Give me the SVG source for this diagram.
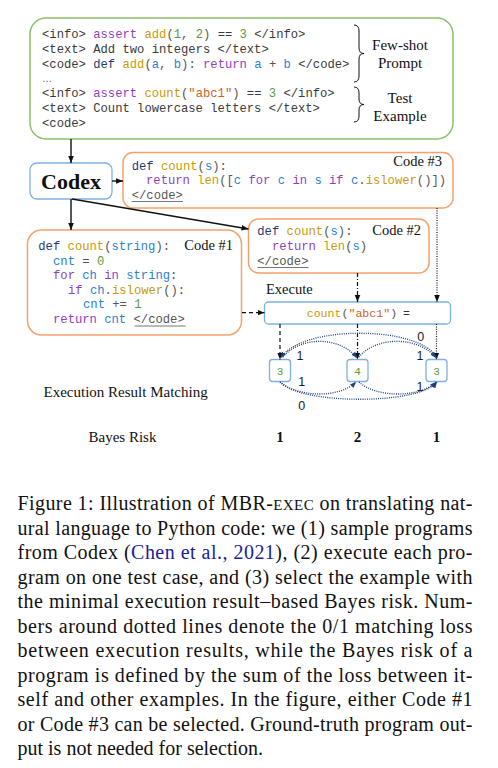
<svg xmlns="http://www.w3.org/2000/svg" width="498" height="768" viewBox="0 0 498 768">
<defs>
<style>
.mono{font-family:"Liberation Mono","DejaVu Sans Mono",monospace;font-size:12.2px;fill:#3a3a3a}
.ex{font-size:11.6px}
.k{fill:#1f3b73}.f{fill:#c99a06}.p{fill:#8e3fbf}.v{fill:#2b82d0}.n{fill:#5b9b3a}.s{fill:#c8642a}.g{fill:#555}
.serif{font-family:"Liberation Serif","Times New Roman",serif;fill:#111}
.lbl{font-size:14.5px}
.lbl15{font-size:15px}
.cap{font-family:"Liberation Serif","Times New Roman",serif;font-size:20px;fill:#111}
.num{font-family:"Liberation Sans",Arial,sans-serif;font-size:12.5px;fill:#222}
.green{fill:#fff;stroke:#8cc068;stroke-width:1.5}
.orange{fill:#fff;stroke:#f3a26b;stroke-width:1.5}
.blue{fill:#fff;stroke:#7fb1e0;stroke-width:1.3}
.ul{stroke:#777;stroke-width:1}
.solid{stroke:#111;stroke-width:1.4;fill:none}
.dash{stroke:#111;stroke-width:1.2;fill:none;stroke-dasharray:4 3}
.dashdot{stroke:#111;stroke-width:1.2;fill:none;stroke-dasharray:4 2 1 2}
.dot{stroke:#111;stroke-width:1.2;fill:none;stroke-dasharray:1 1.4}
.arc{stroke:#1f3f7f;stroke-width:1.3;fill:none;stroke-dasharray:1 1.2}
</style>
<marker id="ah" viewBox="0 0 10 10" refX="10" refY="5" markerWidth="7" markerHeight="7" orient="auto" markerUnits="userSpaceOnUse"><path d="M0,1 L10,5 L0,9 z" fill="#111"/></marker>
<marker id="ahb" viewBox="0 0 10 10" refX="10" refY="5" markerWidth="6" markerHeight="6" orient="auto" markerUnits="userSpaceOnUse"><path d="M0,1 L10,5 L0,9 z" fill="#1f3f7f"/></marker>
</defs>
<rect width="498" height="768" fill="#fff"/>

<g id="prompt">
<rect class="green" x="30" y="18" width="423" height="121" rx="16"/>
<text class="mono" x="42" y="38" xml:space="preserve">&lt;info&gt; <tspan class="p">assert</tspan> <tspan class="f">add</tspan><tspan class="g">(</tspan><tspan class="n">1</tspan><tspan class="g">, </tspan><tspan class="n">2</tspan><tspan class="g">)</tspan> == <tspan class="n">3</tspan> &lt;/info&gt;</text>
<text class="mono" x="42" y="52.75" xml:space="preserve">&lt;text&gt; Add two integers &lt;/text&gt;</text>
<text class="mono" x="42" y="67.5" xml:space="preserve">&lt;code&gt; <tspan class="k">def</tspan> <tspan class="f">add</tspan><tspan class="g">(</tspan><tspan class="v">a</tspan><tspan class="g">, </tspan><tspan class="v">b</tspan><tspan class="g">):</tspan> <tspan class="p">return</tspan> <tspan class="v">a</tspan> <tspan class="g">+</tspan> <tspan class="v">b</tspan> &lt;/code&gt;</text>
<text x="42" y="81.5" style="font-family:'Liberation Sans',sans-serif;font-size:10px;fill:#555">…</text>
<text class="mono" x="42" y="97" xml:space="preserve">&lt;info&gt; <tspan class="p">assert</tspan> <tspan class="f">count</tspan><tspan class="g">(</tspan><tspan class="s">"abc1"</tspan><tspan class="g">)</tspan> == <tspan class="n">3</tspan> &lt;/info&gt;</text>
<text class="mono" x="42" y="111.75" xml:space="preserve">&lt;text&gt; Count lowercase letters &lt;/text&gt;</text>
<text class="mono" x="42" y="126.5" xml:space="preserve">&lt;code&gt;</text>
<path d="M354,25 Q359,25 359,31 L359,48 Q359,53.5 364,53.5 Q359,53.5 359,59 L359,76 Q359,82 354,82" fill="none" stroke="#111" stroke-width="1"/>
<path d="M354,87 Q359,87 359,93 L359,99 Q359,104.5 364,104.5 Q359,104.5 359,110 L359,116 Q359,122 354,122" fill="none" stroke="#111" stroke-width="1"/>
<text class="serif lbl15" x="400" y="49.5" text-anchor="middle">Few-shot</text>
<text class="serif lbl15" x="400" y="67.5" text-anchor="middle">Prompt</text>
<text class="serif lbl15" x="400" y="102.5" text-anchor="middle">Test</text>
<text class="serif lbl15" x="400" y="120.5" text-anchor="middle">Example</text>
</g>

<g id="codex">
<rect class="blue" x="30" y="163" width="82" height="36" rx="7"/>
<text class="serif" x="71" y="189" text-anchor="middle" style="font-size:22px;font-weight:bold">Codex</text>
</g>

<g id="code3">
<rect class="orange" x="123" y="152.5" width="330" height="55.5" rx="10"/>
<text class="mono" x="131.7" y="170"><tspan class="k">def</tspan> <tspan class="f">count</tspan><tspan class="g">(</tspan><tspan class="v">s</tspan><tspan class="g">):</tspan></text>
<text class="mono" x="146" y="184.3" xml:space="preserve"><tspan class="p">return</tspan> <tspan class="f">len</tspan><tspan class="g">([</tspan><tspan class="v">c</tspan> <tspan class="p">for</tspan> <tspan class="v">c</tspan> <tspan class="p">in</tspan> <tspan class="v">s</tspan> <tspan class="p">if</tspan> <tspan class="v">c</tspan><tspan class="g">.</tspan><tspan class="f">islower</tspan><tspan class="g">()])</tspan></text>
<text class="mono g" x="131.7" y="198.5">&lt;/code&gt;</text>
<line class="ul" x1="131.7" y1="201.5" x2="183" y2="201.5"/>
<text class="serif lbl" x="442" y="166" text-anchor="end">Code #3</text>
</g>

<g id="code2">
<rect class="orange" x="248.5" y="219" width="180.5" height="54" rx="10"/>
<text class="mono" x="257.3" y="235"><tspan class="k">def</tspan> <tspan class="f">count</tspan><tspan class="g">(</tspan><tspan class="v">s</tspan><tspan class="g">):</tspan></text>
<text class="mono" x="272" y="250"><tspan class="p">return</tspan> <tspan class="f">len</tspan><tspan class="g">(</tspan><tspan class="v">s</tspan><tspan class="g">)</tspan></text>
<text class="mono g" x="257.3" y="264.5">&lt;/code&gt;</text>
<line class="ul" x1="257.3" y1="267.5" x2="308.5" y2="267.5"/>
<text class="serif lbl" x="421" y="235" text-anchor="end">Code #2</text>
</g>

<g id="code1">
<rect class="orange" x="27.5" y="230" width="214" height="105" rx="14"/>
<text class="mono" x="38.3" y="250"><tspan class="k">def</tspan> <tspan class="f">count</tspan><tspan class="g">(</tspan><tspan class="v">string</tspan><tspan class="g">):</tspan></text>
<text class="mono" x="53" y="264.5"><tspan class="v">cnt</tspan> <tspan class="g">=</tspan> <tspan class="n">0</tspan></text>
<text class="mono" x="53" y="279"><tspan class="p">for</tspan> <tspan class="v">ch</tspan> <tspan class="p">in</tspan> <tspan class="v">string</tspan><tspan class="g">:</tspan></text>
<text class="mono" x="68" y="293.5"><tspan class="p">if</tspan> <tspan class="v">ch</tspan><tspan class="g">.</tspan><tspan class="f">islower</tspan><tspan class="g">():</tspan></text>
<text class="mono" x="83" y="308"><tspan class="v">cnt</tspan> <tspan class="g">+=</tspan> <tspan class="n">1</tspan></text>
<text class="mono" x="53" y="323"><tspan class="p">return</tspan> <tspan class="v">cnt</tspan> <tspan class="g">&lt;/code&gt;</tspan></text>
<line class="ul" x1="134.5" y1="326" x2="185.7" y2="326"/>
<text class="serif lbl" x="233" y="250" text-anchor="end">Code #1</text>
</g>

<g id="execute">
<text class="serif lbl" x="266" y="294">Execute</text>
<rect class="blue" x="264.5" y="302" width="186" height="22" rx="4"/>
<text class="mono ex" x="306.7" y="317"><tspan class="f">count</tspan><tspan class="g">(</tspan><tspan class="s">"abc1"</tspan><tspan class="g">)</tspan><tspan x="403" fill="#333">=</tspan></text>
</g>

<g id="result1">
<rect class="blue" x="269.5" y="359.5" width="21" height="22" rx="3"/>
<text class="mono n" x="280" y="374.5" text-anchor="middle" style="font-size:11px">3</text>
</g>
<g id="result2">
<rect class="blue" x="347" y="359.5" width="21" height="22" rx="3"/>
<text class="mono n" x="357.5" y="374.5" text-anchor="middle" style="font-size:11px">4</text>
</g>
<g id="result3">
<rect class="blue" x="426" y="359.5" width="21" height="22" rx="3"/>
<text class="mono n" x="436.5" y="374.5" text-anchor="middle" style="font-size:11px">3</text>
</g>

<g id="connectors">
<line class="solid" x1="71" y1="139" x2="71" y2="163" marker-end="url(#ah)"/>
<line class="solid" x1="112" y1="181" x2="123" y2="181" marker-end="url(#ah)"/>
<line class="solid" x1="71" y1="199" x2="71" y2="230" marker-end="url(#ah)"/>
<line class="solid" x1="72" y1="199" x2="248.5" y2="229" marker-end="url(#ah)"/>
<line class="dash" x1="242" y1="312.7" x2="264.5" y2="312.7" marker-end="url(#ah)"/>
<line class="dashdot" x1="357.5" y1="273" x2="357.5" y2="302" marker-end="url(#ah)"/>
<line class="dot" x1="437" y1="208" x2="437" y2="302" marker-end="url(#ah)"/>
<line class="dash" x1="280" y1="324" x2="280" y2="359.5" marker-end="url(#ah)"/>
<line class="dashdot" x1="357.5" y1="324" x2="357.5" y2="359.5" marker-end="url(#ah)"/>
<line class="dot" x1="436.5" y1="324" x2="436.5" y2="359.5" marker-end="url(#ah)"/>
<path class="arc" d="M437,358 C420,325 300,325 281,358" marker-end="url(#ahb)"/>
<path class="arc" d="M283,357 C300,336 340,336 357,358" marker-end="url(#ahb)"/>
<path class="arc" d="M359,357 C376,336 419,336 436,358" marker-end="url(#ahb)"/>
<path class="arc" d="M280,382 C300,398 340,398 356,382" marker-end="url(#ahb)"/>
<path class="arc" d="M359,382 C376,398 420,398 436,382" marker-end="url(#ahb)"/>
<path class="arc" d="M280,382 C300,405 420,405 437,382" marker-end="url(#ahb)"/>
<text class="num" x="300" y="359.5" text-anchor="middle">1</text>
<text class="num" x="420" y="359.5" text-anchor="middle">1</text>
<text class="num" x="420.7" y="341" text-anchor="middle">0</text>
<text class="num" x="301.7" y="386" text-anchor="middle">1</text>
<text class="num" x="420" y="391" text-anchor="middle">1</text>
<text class="num" x="301.7" y="409.5" text-anchor="middle">0</text>
</g>

<g id="labels">
<text class="serif lbl15" x="43.5" y="396.5">Execution Result Matching</text>
<text class="serif lbl15" x="88.5" y="442">Bayes Risk</text>
<text class="serif lbl15" x="280" y="442" text-anchor="middle" font-weight="bold">1</text>
<text class="serif lbl15" x="357.5" y="442" text-anchor="middle" font-weight="bold">2</text>
<text class="serif lbl15" x="436.5" y="442" text-anchor="middle" font-weight="bold">1</text>
</g>

<g id="caption">
<text class="cap" x="17.5" y="510" textLength="455" lengthAdjust="spacing">Figure 1: Illustration of MBR-<tspan style="font-size:15px">EXEC</tspan> on translating nat-</text>
<text class="cap" x="17.5" y="534.5" textLength="455" lengthAdjust="spacing">ural language to Python code: we (1) sample programs</text>
<text class="cap" x="17.5" y="559" textLength="455" lengthAdjust="spacing">from Codex (<tspan fill="#1c1c9a">Chen et al., 2021</tspan>), (2) execute each pro-</text>
<text class="cap" x="17.5" y="583.5" textLength="455" lengthAdjust="spacing">gram on one test case, and (3) select the example with</text>
<text class="cap" x="17.5" y="608" textLength="455" lengthAdjust="spacing">the minimal execution result–based Bayes risk. Num-</text>
<text class="cap" x="17.5" y="632.5" textLength="455" lengthAdjust="spacing">bers around dotted lines denote the 0/1 matching loss</text>
<text class="cap" x="17.5" y="657" textLength="455" lengthAdjust="spacing">between execution results, while the Bayes risk of a</text>
<text class="cap" x="17.5" y="681.5" textLength="455" lengthAdjust="spacing">program is defined by the sum of the loss between it-</text>
<text class="cap" x="17.5" y="706" textLength="455" lengthAdjust="spacing">self and other examples. In the figure, either Code #1</text>
<text class="cap" x="17.5" y="730.5" textLength="455" lengthAdjust="spacing">or Code #3 can be selected. Ground-truth program out-</text>
<text class="cap" x="17.5" y="755">put is not needed for selection.</text>
</g>
</svg>
